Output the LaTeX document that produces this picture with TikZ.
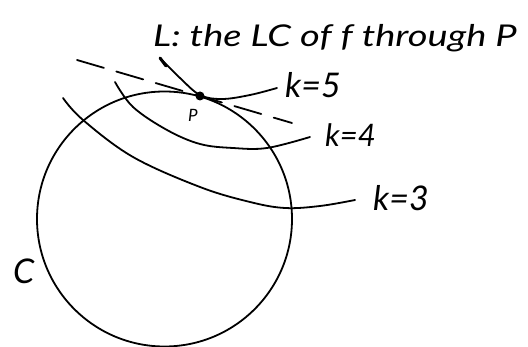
\documentclass[tikz,border=0pt]{standalone}
\usepackage{fontspec}
\setmainfont{Lato}
\usetikzlibrary{calc}
\begin{document}
\begin{tikzpicture}[x=1pt,y=-1pt,
  curve/.style={line width=1.8pt, line cap=round, line join=round},
  lbl/.style={inner sep=0pt, anchor=base west, font=\itshape\fontsize{34}{34}\selectfont},
  tangentline/.style={curve, dash pattern=on 28pt off 13pt}]
\useasboundingbox (0,0) rectangle (528,347);
% circle C
\draw[curve] (164.5,219) circle [radius=127.5pt];
% level curves
\draw[curve] plot[smooth, tension=0.6] coordinates {(63,98) (83,120) (133,157) (200,187) (250,202) (285,208) (320,206) (355,200)};
\draw[curve] plot[smooth, tension=0.6] coordinates {(115,82) (133,107) (167,130) (200,144) (233,148) (267,148) (310,137)};
\draw[curve] plot[smooth, tension=0.6] coordinates {(160,58) (180,78) (200,95) (222,99) (250,95) (277,88)};
\draw[line width=3pt, line cap=round] (160,58) -- (166,66);
% tangent line
\coordinate (T1) at (77,60);
\coordinate (T2) at (292,123);
\draw[tangentline] (T1) -- (T2);
% point P
\coordinate (P) at (200,96);
\fill (P) circle [radius=4.5pt];
\node[lbl, font=\itshape\fontsize{17}{17}\selectfont] (plabel) at (188,122) {P};
% labels
\node[lbl, font=\itshape\fontsize{30}{30}\selectfont] (title) at (153,47) {\scalebox{1.27}[1]{L: the LC of f through P}};
\node[lbl] (k5) at (285,98) {k=5};
\node[lbl, font=\itshape\fontsize{31}{31}\selectfont] (k4) at (325,147) {k=4};
\node[lbl] (k3) at (373,211) {k=3};
\node[lbl] (C) at (13,284) {C};
\end{tikzpicture}
\end{document}
